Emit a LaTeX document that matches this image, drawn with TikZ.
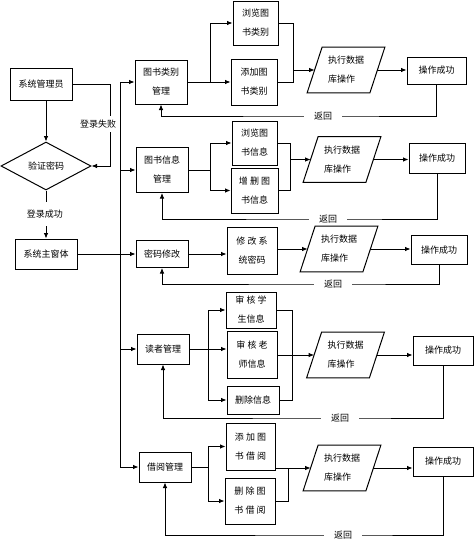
\documentclass[tikz,border=0pt]{standalone}
\usepackage{fontspec}
\setmainfont{Noto Sans CJK SC}
\usetikzlibrary{arrows.meta,shapes.geometric,calc}
\begin{document}
\begin{tikzpicture}[x=1pt,y=-1pt, font=\fontsize{9}{19}\selectfont, line width=0.8pt,
  box/.style={draw, rectangle, inner sep=1pt, align=center, line width=1pt},
  arr/.style={-{Latex[length=5.5pt,width=4.5pt]}},
  lab/.style={fill=white, inner xsep=10pt, inner ysep=1pt},
  para/.style={minimum width=62, minimum height=45, inner sep=0pt, align=left}]
\useasboundingbox (0,0) rectangle (474,546);

% left column
\node[box, minimum width=62, minimum height=32] (adm) at (41,84) {系统管理员};
\node[diamond, draw, aspect=2, minimum width=90, minimum height=48, inner sep=0pt, line width=1pt] (ver) at (46,166) {验证密码};
\node[box, minimum width=62, minimum height=30] (main) at (46,254) {系统主窗体};

% managers
\node[box, minimum width=52, minimum height=44] (m1) at (161,82) {图书类别\\管理};
\node[box, minimum width=52, minimum height=45] (m2) at (162,170) {图书信息\\管理};
\node[box, minimum width=52, minimum height=27] (m3) at (162,254) {密码修改};
\node[box, minimum width=52, minimum height=30] (m4) at (163,349) {读者管理};
\node[box, minimum width=52, minimum height=30] (m5) at (165,467) {借阅管理};

% third column
\node[box, minimum width=45, minimum height=44] (a1) at (255.5,23) {浏览图\\书类别};
\node[box, minimum width=46, minimum height=46] (a2) at (254,82) {添加图\\书类别};
\node[box, minimum width=45, minimum height=44] (b1) at (254.5,143) {浏览图\\书信息};
\node[box, minimum width=47, minimum height=45] (b2) at (254.5,190.5) {增 删 图\\书信息};
\node[box, minimum width=50, minimum height=47] (c1) at (252,251) {修 改 系\\统密码};
\node[box, minimum width=50, minimum height=36] (d1) at (251,310) {审 核 学\\生信息};
\node[box, minimum width=50, minimum height=47] (d2) at (252,355) {审 核 老\\师信息};
\node[box, minimum width=52, minimum height=28] (d3) at (253,400) {删除信息};
\node[box, minimum width=49, minimum height=47] (e1) at (250.5,446.5) {添 加 图\\书 借 阅};
\node[box, minimum width=50, minimum height=46] (e2) at (250,501) {删 除 图\\书 借 阅};

% parallelograms
\node[para] (p1) at (346,70) {执行数据\\库操作};
\node[para] (p2) at (342,159.5) {执行数据\\库操作};
\node[para] (p3) at (339,249) {执行数据\\库操作};
\node[para] (p4) at (345.5,355) {执行数据\\库操作};
\node[para] (p5) at (342,468) {执行数据\\库操作};
\foreach \p in {p1,p2,p3,p4,p5}
  \draw[line width=1pt] ([xshift=-7.5pt]\p.south west) -- ([xshift=7.5pt]\p.north west)
    -- ([xshift=7.5pt]\p.north east) -- ([xshift=-7.5pt]\p.south east) -- cycle;

% success boxes
\node[box, minimum width=59, minimum height=27] (s1) at (436.5,70.5) {操作成功};
\node[box, minimum width=56, minimum height=30] (s2) at (437,158) {操作成功};
\node[box, minimum width=56, minimum height=29] (s3) at (439,250) {操作成功};
\node[box, minimum width=60, minimum height=29] (s4) at (443,350.5) {操作成功};
\node[box, minimum width=60, minimum height=29] (s5) at (443,461.5) {操作成功};

% helper coordinates
\coordinate (bt) at (120,82);
\coordinate (bb) at (120,467);
\coordinate (f1) at (210,0);
\coordinate (f2) at (210,0);
\coordinate (f4) at (208,0);
\coordinate (f5) at (208,0);
\coordinate (k1) at (293,0);
\coordinate (k2) at (290,0);
\coordinate (k4) at (292,0);
\coordinate (k5) at (288,0);
\coordinate (r1) at (323,116);
\coordinate (r2) at (328,219);
\coordinate (r3) at (333,284);
\coordinate (r4) at (340,418);
\coordinate (r5) at (343,535);

% left connectors
\draw[arr] (adm.south -| ver.north) -- (ver.north);
\draw[arr] (adm.east) -- (110,84) -- (110,166) -- (ver.east);
\node[lab, inner xsep=1pt, inner ysep=4pt] (l1) at (98,124) {登录失败};
\draw[arr] (ver.south) -- (main.north);
\node[lab, inner xsep=1pt, inner ysep=8pt] (l2) at (45,214) {登录成功};

% bus
\draw (bt) -- (bb);
\draw (main.east) -- (main.east -| bt);
\foreach \m in {m1,m2,m3,m4,m5}
  \draw[arr] (\m.west -| bt) -- (\m.west);

% row 1
\draw (m1.east) -- (m1.east -| f1);
\draw[arr] (m1.east -| f1) |- (a1.west);
\draw[arr] (m1.east -| f1) -- (a2.west);
\draw (a1.east) -- (a1.east -| k1) -- (a2.east -| k1) -- (a2.east);
\draw[arr] (p1.west -| k1) -- (p1.west);
\draw[arr] (p1.east) -- (p1.east -| s1.west);
\draw[arr] (s1.south) |- (r1) -| (m1.south);
\node[lab] (t1) at (r1) {返回};

% row 2
\draw (m2.east) -- (m2.east -| f2);
\draw[arr] (m2.east -| f2) |- (b1.west);
\draw[arr] (m2.east -| f2) |- (b2.west);
\draw (b1.east) -- (b1.east -| k2) -- (b2.east -| k2) -- (b2.east);
\draw[arr] (p2.west -| k2) -- (p2.west);
\draw[arr] (p2.east) -- (p2.east -| s2.west);
\draw[arr] (s2.south) |- (r2) -| (m2.south);
\node[lab] (t2) at (r2) {返回};

% row 3
\draw[arr] (m3.east) -- (m3.east -| c1.west);
\draw[arr] (c1.east |- p3.west) -- (p3.west);
\draw[arr] (p3.east) -- (p3.east -| s3.west);
\draw[arr] (s3.south) |- (r3) -| (m3.south);
\node[lab] (t3) at (r3) {返回};

% row 4
\draw (m4.east) -- (m4.east -| f4);
\draw[arr] (m4.east -| f4) |- (d1.west);
\draw[arr] (m4.east -| f4) -- (m4.east -| d2.west);
\draw[arr] (m4.east -| f4) |- (d3.west);
\draw (d1.east) -- (d1.east -| k4) -- (d3.east -| k4) -- (d3.east);
\draw[arr] (d2.east) -- (p4.west);
\draw[arr] (p4.east) -- (p4.east -| s4.west);
\draw[arr] (s4.south) |- (r4) -| (m4.south);
\node[lab] (t4) at (r4) {返回};

% row 5
\draw (m5.east) -- (m5.east -| f5);
\draw[arr] (m5.east -| f5) |- (e1.west);
\draw[arr] (m5.east -| f5) |- (e2.west);
\draw (e1.east |- p5.west) -- (p5.west -| k5) -- (e2.east -| k5) -- (e2.east);
\draw[arr] (p5.west -| k5) -- (p5.west);
\draw[arr] (p5.east) -- (p5.east -| s5.west);
\draw[arr] (s5.south) |- (r5) -| (m5.south);
\node[lab] (t5) at (r5) {返回};
\end{tikzpicture}
\end{document}
